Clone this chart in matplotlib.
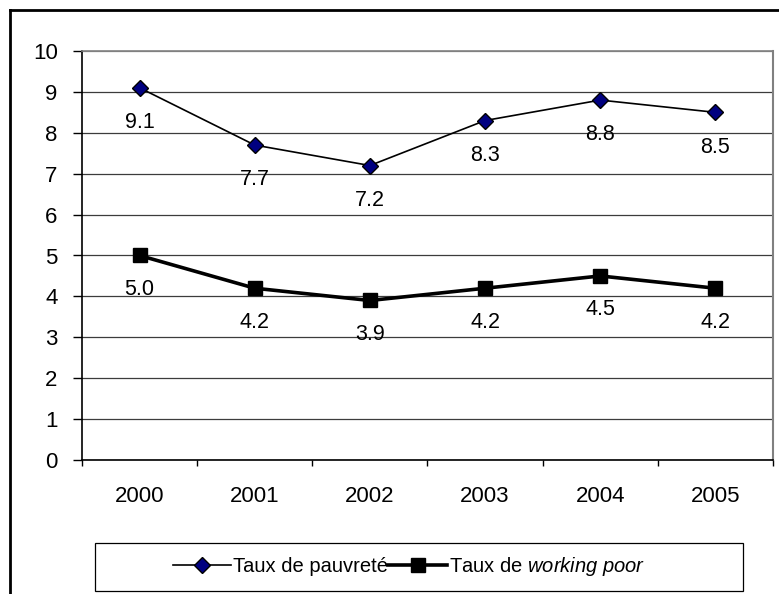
import numpy as np
import matplotlib.pyplot as plt
from matplotlib.lines import Line2D
from matplotlib.patches import Rectangle

plt.rcParams['font.family'] = ['Liberation Sans', 'DejaVu Sans']
plt.rcParams['mathtext.fontset'] = 'custom'
plt.rcParams['mathtext.it'] = 'Liberation Sans:italic'
plt.rcParams['mathtext.rm'] = 'Liberation Sans'

years = ["2000", "2001", "2002", "2003", "2004", "2005"]
pauvrete = [9.1, 7.7, 7.2, 8.3, 8.8, 8.5]
working_poor = [5.0, 4.2, 3.9, 4.2, 4.5, 4.2]
y_ticks = list(range(0, 11))

W, H = 779, 594
fig = plt.figure(figsize=(W / 100, H / 100), dpi=100)
ax = fig.add_axes([82 / W, 1 - 460 / H, (773 - 82) / W, (460 - 51) / H])

x = np.arange(len(years))

# gridlines
for v in y_ticks:
    ax.axhline(v, color="#3c3c3c" if v < 10 else "#808080", lw=0.9, zorder=1)

ax.plot(x, pauvrete, color="black", lw=1.2, marker="D", ms=8.5,
        mfc="#000080", mec="black", mew=1.0, zorder=3,
        label="Taux de pauvreté")
ax.plot(x, working_poor, color="black", lw=2.6, marker="s", ms=10,
        mfc="black", mec="black", zorder=3,
        label="Taux de $\\it{working\\ poor}$")

for xi, v in zip(x, pauvrete):
    ax.annotate(f"{v:.1f}", (xi, v), xytext=(0, -25), textcoords="offset points",
                ha="center", va="center", fontsize=15.5)
for xi, v in zip(x, working_poor):
    ax.annotate(f"{v:.1f}", (xi, v), xytext=(0, -24.5), textcoords="offset points",
                ha="center", va="center", fontsize=15.5)

ax.set_xlim(-0.5, len(years) - 0.5)
ax.set_ylim(0, 10)
ax.set_yticks(y_ticks)
ax.set_yticklabels([str(v) for v in y_ticks], fontsize=16)
ax.tick_params(axis="y", length=6.5, width=1, pad=11, color="black")

ax.set_xticks(x)
ax.set_xticklabels(years, fontsize=16)
ax.tick_params(axis="x", which="major", length=0, pad=19)
ax.set_xticks(np.arange(-0.5, len(years)), minor=True)
ax.tick_params(axis="x", which="minor", length=4.5, width=1, color="black")

ax.spines["left"].set_color("black")
ax.spines["left"].set_linewidth(1.2)
ax.spines["bottom"].set_color("black")
ax.spines["bottom"].set_linewidth(1.2)
ax.spines["top"].set_color("#808080")
ax.spines["top"].set_linewidth(1.2)
ax.spines["right"].set_color("#808080")
ax.spines["right"].set_linewidth(1.5)

# legend
leg = fig.legend(loc="center", bbox_to_anchor=(409 / W, 1 - 567 / H), ncol=2,
                 frameon=False, fontsize=14.5, handlelength=2.9,
                 handletextpad=0.1, columnspacing=0.0)
fig.add_artist(Rectangle((95 / W, 1 - 591 / H), (743 - 95) / W, 48 / H,
                         transform=fig.transFigure, fill=False,
                         edgecolor="black", lw=0.9))

# outer chart border
fig.add_artist(Line2D([9.5 / W, 1.0], [1 - 9.5 / H, 1 - 9.5 / H],
                      transform=fig.transFigure, color="black", lw=2))
fig.add_artist(Line2D([9.5 / W, 9.5 / W], [0.0, 1 - 9.5 / H],
                      transform=fig.transFigure, color="black", lw=2))

fig.savefig("out.png", dpi=100)
